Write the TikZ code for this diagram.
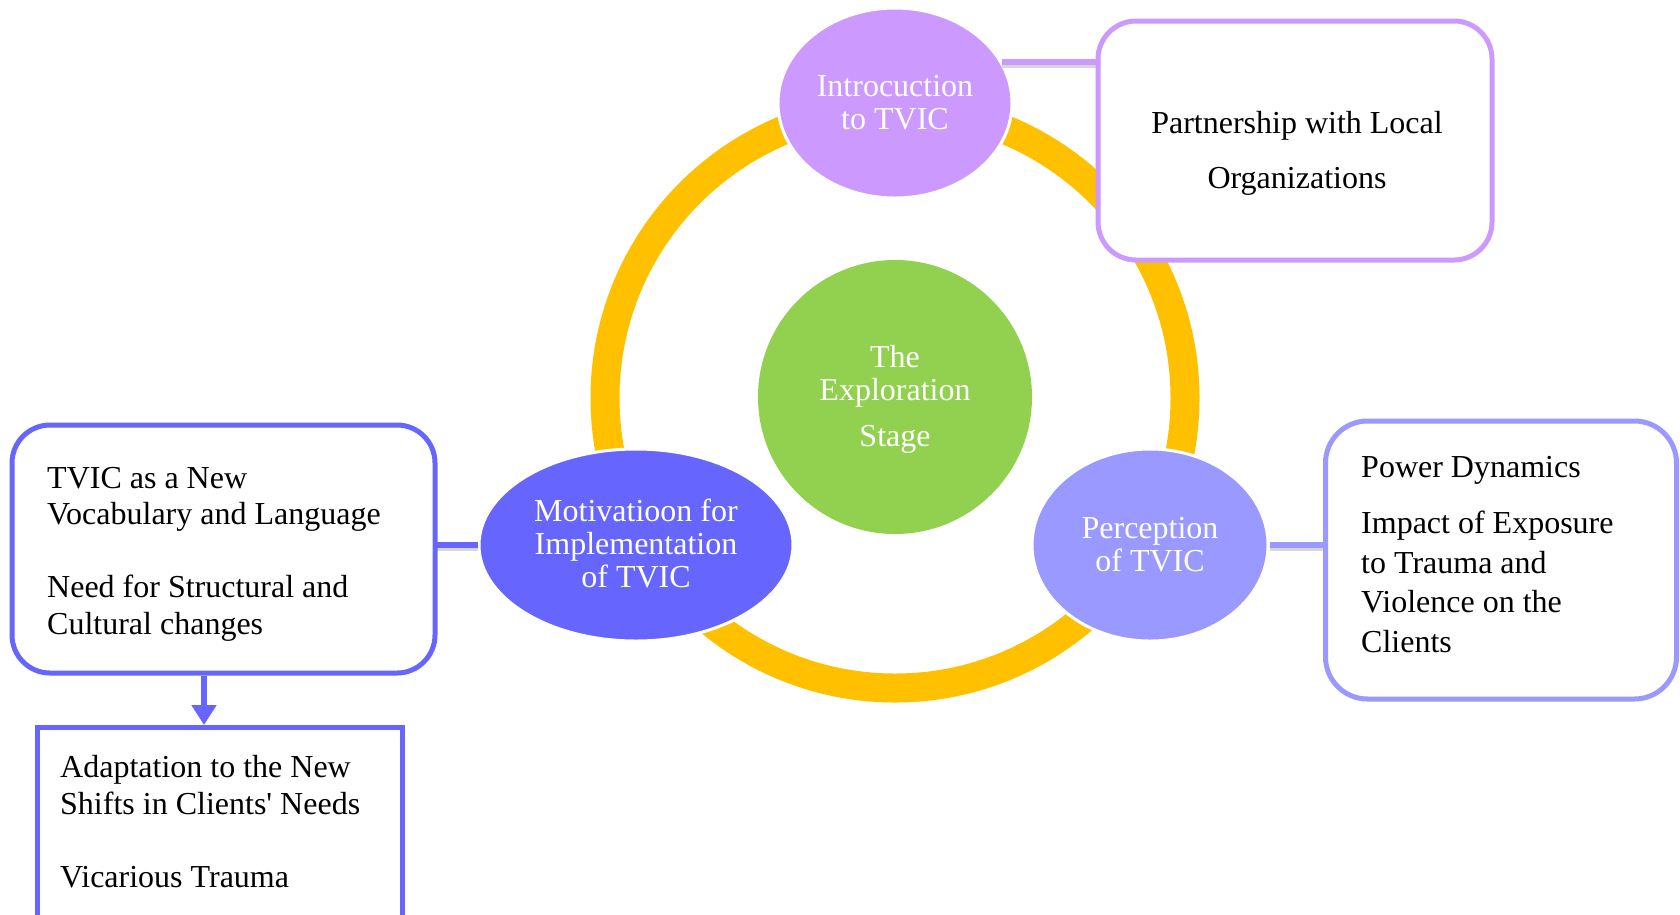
\documentclass[tikz,border=0pt]{standalone}
\usepackage{fontspec}
\setmainfont{Liberation Serif}
\usetikzlibrary{shapes.geometric,arrows.meta}
\definecolor{ringgold}{HTML}{FFC000}
\definecolor{stagegreen}{HTML}{92D050}
\definecolor{introlilac}{HTML}{CC99FF}
\definecolor{motivblue}{HTML}{6666FF}
\definecolor{percepblue}{HTML}{9999FF}
\tikzset{
  bubble/.style={ellipse, draw=white, line width=3pt, inner sep=0pt},
  bubbletext/.style={text=white, align=center, inner sep=0pt, anchor=base, font=\fontsize{32}{33}\selectfont},
  card/.style={rectangle, rounded corners=38pt, line width=5pt, fill=white, inner sep=0pt},
  cardtext/.style={text=black, inner sep=0pt, anchor=base west, align=left},
  link/.style={line width=6.5pt, preaction={draw=black!45, opacity=0.35, line width=5pt, transform canvas={yshift=-3.5pt}}},
}
\begin{document}
\begin{tikzpicture}[x=1pt,y=-1pt]
\useasboundingbox (0,0) rectangle (1680,914);
\clip (0,0) rectangle (1680,914);
\fill[white] (0,0) rectangle (1680,914);

% the stage ring and its centre
\node[circle, draw=ringgold, line width=29pt, minimum size=580pt, inner sep=0pt] (ring) at (895,398) {};
\node[circle, fill=stagegreen, minimum size=274pt, inner sep=0pt] (stage) at (895,397) {};

% the three themes on the ring
\node[bubble, fill=introlilac, minimum width=234pt, minimum height=190pt] (intro) at (895,103) {};
\node[bubble, fill=motivblue, minimum width=314pt, minimum height=192pt] (motiv) at (636,545) {};
\node[bubble, fill=percepblue, minimum width=236pt, minimum height=192pt] (percep) at (1150,545) {};

% connectors to the sub-theme cards
\draw[link, introlilac] (intro.21) -- (intro.21 -| 1100,0);
\draw[link, motivblue] (motiv.west) -- (motiv.west -| 430,0);
\draw[link, percepblue] (percep.east) -- (percep.east -| 1330,0);

% sub-theme cards
\node[card, draw=introlilac, minimum width=394pt, minimum height=239pt] (partner) at (1295,140.5) {};
\node[card, draw=percepblue, rounded corners=42pt, minimum width=351pt, minimum height=278pt] (power) at (1501,560) {};
\node[card, draw=motivblue, minimum width=423pt, minimum height=248pt] (vocab) at (223.5,549) {};
\node[card, draw=motivblue, rounded corners=0pt, minimum width=365pt, minimum height=230pt, anchor=north] (adapt) at (219.5,725) {};

\draw[motivblue, line width=6.5pt, -{Triangle[width=24pt,length=20pt]}] ([xshift=-19.5pt]vocab.south) -- ([xshift=-19.5pt]vocab.south |- adapt.north);

% labels (each placed by the baseline of its last line)
\node[bubbletext] (stagetxt) at (895,446) {The\\Exploration\\[13pt]Stage};
\node[bubbletext] (introtxt) at (895,129) {Introcuction\\to TVIC};
\node[bubbletext] (motivtxt) at (636,587) {Motivatioon for\\Implementation\\of TVIC};
\node[bubbletext] (perceptxt) at (1150,571) {Perception\\of TVIC};
\node[cardtext, align=center, anchor=base, font=\fontsize{32}{36.5}\selectfont] (partnertxt) at (1297,188) {Partnership with Local\\[18pt]Organizations};
\node[cardtext, font=\fontsize{32}{39.5}\selectfont] (powertxt) at (1361,652) {Power Dynamics\\[16.5pt]Impact of Exposure\\to Trauma and\\Violence on the\\Clients};
\node[cardtext, font=\fontsize{32}{36.5}\selectfont] (vocabtxt) at (47,634) {TVIC as a New\\Vocabulary and Language\\[36.5pt]Need for Structural and\\Cultural changes};
\node[cardtext, font=\fontsize{32}{37}\selectfont] (adapttxt) at (60,887) {Adaptation to the New\\Shifts in Clients\textquotesingle{} Needs\\[36pt]Vicarious Trauma};
\end{tikzpicture}
\end{document}
